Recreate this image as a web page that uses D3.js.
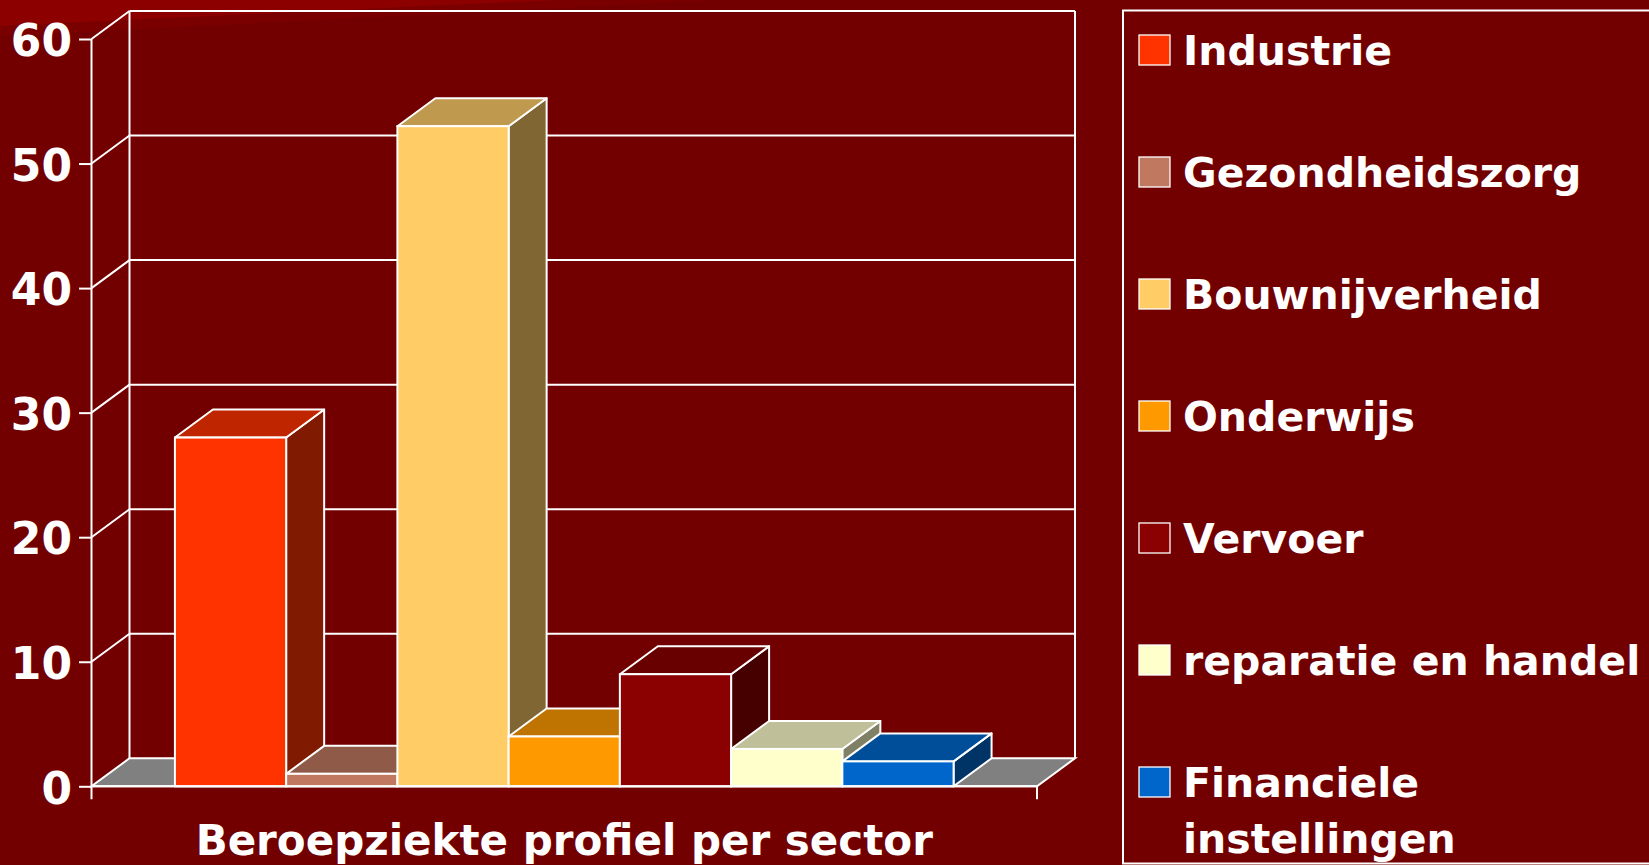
<!DOCTYPE html>
<html>
<head>
<meta charset="utf-8">
<script src="https://cdn.jsdelivr.net/npm/d3@7"></script>
<style>
  html, body { margin: 0; padding: 0; background: #730000; overflow: hidden; }
  svg { display: block; }
  text { font-family: "DejaVu Sans", sans-serif; font-weight: bold; fill: #ffffff; }
</style>
</head>
<body>
<svg id="chart" width="1649" height="865"></svg>
<script>
// ---- data ----
const category = "Beroepziekte profiel per sector";
const seriesNames = ["Industrie", "Gezondheidszorg", "Bouwnijverheid", "Onderwijs", "Vervoer", "reparatie en handel", "Financiele instellingen"];
const seriesValues = [28, 1, 53, 4, 9, 3, 2];
const seriesColors = ["#FF3300", "#C07860", "#FFCC66", "#FF9900", "#8B0000", "#FFFFCC", "#0066CC"];
const legendLines = [["Industrie"], ["Gezondheidszorg"], ["Bouwnijverheid"], ["Onderwijs"], ["Vervoer"], ["reparatie en handel"], ["Financiele", "instellingen"]];
const yTicks = [0, 10, 20, 30, 40, 50, 60];

// ---- layout ----
const frontLeft = 91.5, frontRight = 1037;
const depthX = 38, depthY = 28;
const svg = d3.select("#chart");

// slide decoration (top-left swoosh)
svg.append("path").attr("d", "M0,0 L560,0 L0,26 Z").attr("fill", "#8C0000");
svg.append("path").attr("d", "M0,26 L560,0 L720,0 L0,36 Z").attr("fill", "#7e0000").attr("opacity", 0.7);

const y = d3.scaleLinear().domain([0, 60]).range([786.3, 39]);
const x = d3.scaleBand().domain(seriesNames).range([frontLeft, frontRight]).paddingInner(0).paddingOuter(0.75);
const yMin = y(0);
const dark = (c, k) => { const r = d3.rgb(c); return d3.rgb(r.r * k, r.g * k, r.b * k).formatHex(); };

const g = svg.append("g");
const SW = 2;
const lineStyle = s => s.attr("stroke", "#fff").attr("stroke-width", SW).attr("fill", "none");

// floor
g.append("path")
  .attr("d", `M${frontLeft},${yMin} L${frontRight},${yMin} L${frontRight + depthX},${yMin - depthY} L${frontLeft + depthX},${yMin - depthY} Z`)
  .attr("fill", "#808080").attr("stroke", "#fff").attr("stroke-width", SW);

// gridlines on back wall + side wall
yTicks.forEach(t => {
  if (t === 0) return;
  g.append("line").attr("x1", frontLeft + depthX).attr("x2", frontRight + depthX)
    .attr("y1", y(t) - depthY).attr("y2", y(t) - depthY).call(lineStyle);
  g.append("line").attr("x1", frontLeft).attr("x2", frontLeft + depthX)
    .attr("y1", y(t)).attr("y2", y(t) - depthY).call(lineStyle);
});
// wall verticals
g.append("line").attr("x1", frontLeft + depthX).attr("x2", frontLeft + depthX)
  .attr("y1", y(60) - depthY).attr("y2", yMin - depthY).call(lineStyle);
g.append("line").attr("x1", frontRight + depthX).attr("x2", frontRight + depthX)
  .attr("y1", y(60) - depthY).attr("y2", yMin - depthY).call(lineStyle);

// bars
const bw = x.bandwidth();
seriesNames.forEach((name, i) => {
  const v = seriesValues[i], c = seriesColors[i];
  const x0 = x(name), x1 = x0 + bw, yv = y(v);
  const bar = g.append("g");
  bar.append("path")
    .attr("d", `M${x1},${yv} L${x1 + depthX},${yv - depthY} L${x1 + depthX},${yMin - depthY} L${x1},${yMin} Z`)
    .attr("fill", dark(c, 0.5)).attr("stroke", "#fff").attr("stroke-width", SW).attr("stroke-linejoin", "round");
  bar.append("path")
    .attr("d", `M${x0},${yv} L${x0 + depthX},${yv - depthY} L${x1 + depthX},${yv - depthY} L${x1},${yv} Z`)
    .attr("fill", dark(c, 0.75)).attr("stroke", "#fff").attr("stroke-width", SW).attr("stroke-linejoin", "round");
  bar.append("rect")
    .attr("x", x0).attr("y", yv).attr("width", bw).attr("height", yMin - yv)
    .attr("fill", c).attr("stroke", "#fff").attr("stroke-width", SW);
});

// y axis
const yAxis = d3.axisLeft(y).tickValues(yTicks).tickSize(12.5).tickSizeOuter(0).tickPadding(7).tickFormat(d3.format("d"));
const ax = svg.append("g").attr("transform", `translate(${frontLeft},0)`).call(yAxis);
ax.select(".domain").remove();
ax.selectAll(".tick line").attr("stroke", "#fff").attr("stroke-width", SW);
ax.selectAll(".tick text").attr("font-size", 44).attr("fill", "#fff").attr("dy", "0.38em")
  .style("font-family", "'DejaVu Sans', sans-serif").style("font-weight", "bold");
svg.append("line").attr("x1", frontLeft).attr("x2", frontLeft).attr("y1", y(60)).attr("y2", yMin + 13).call(lineStyle);

// x axis (front floor edge + end ticks)
svg.append("line").attr("x1", frontLeft).attr("x2", frontRight).attr("y1", yMin).attr("y2", yMin).call(lineStyle);
svg.append("line").attr("x1", frontRight).attr("x2", frontRight).attr("y1", yMin).attr("y2", yMin + 13).call(lineStyle);
svg.append("text").attr("x", (frontLeft + frontRight) / 2).attr("y", 855)
  .attr("text-anchor", "middle").attr("font-size", 42).text(category);

// legend
const lg = svg.append("g");
lg.append("rect").attr("x", 1123).attr("y", 10.5).attr("width", 600).attr("height", 853)
  .attr("fill", "none").attr("stroke", "#fff").attr("stroke-width", SW);
legendLines.forEach((lines, i) => {
  const base = 65 + i * 122;
  lg.append("rect").attr("x", 1139).attr("y", base - 30).attr("width", 31).attr("height", 30)
    .attr("fill", seriesColors[i]).attr("stroke", "#fff").attr("stroke-width", 1.3);
  const t = lg.append("text").attr("x", 1183).attr("y", base).attr("font-size", 41);
  lines.forEach((ln, j) => t.append("tspan").attr("x", 1183).attr("y", base + j * 56).text(ln));
});
</script>
</body>
</html>
